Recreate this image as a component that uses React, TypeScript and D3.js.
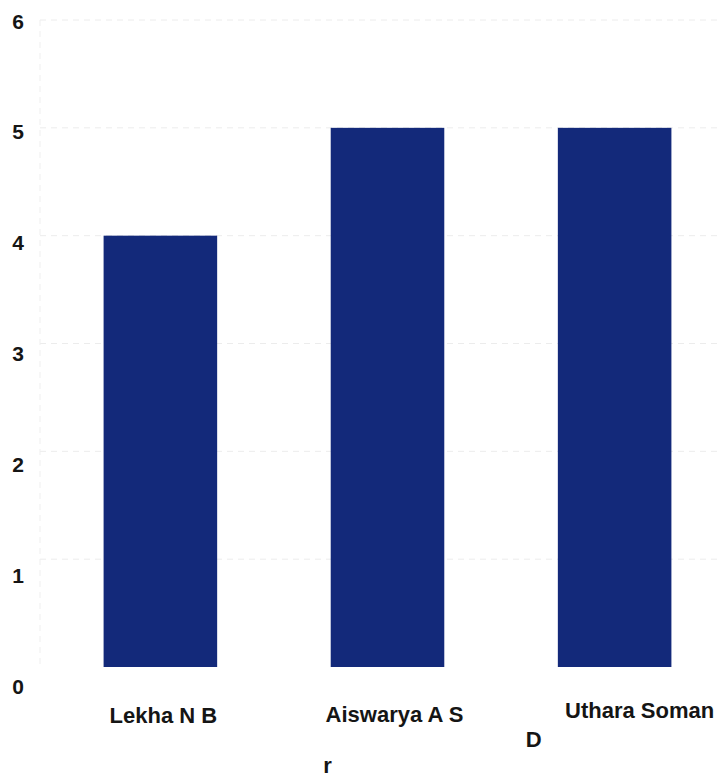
import { useEffect, useRef } from 'react';
import * as d3 from 'd3';

const categories = ['Lekha N B', 'Aiswarya A S', 'Uthara Soman'];
const values = [4, 5, 5];
const yTicks = [0, 1, 2, 3, 4, 5, 6];
// stray fragments printed under the category labels
const extraLabels = [
    { category: 'Aiswarya A S', text: 'r' },
    { category: 'Uthara Soman', text: 'D' },
];

const FONT = '"Liberation Sans", Arial, sans-serif';

export default function App() {
    const svgRef = useRef<SVGSVGElement>(null);

    useEffect(() => {
        if (!svgRef.current) return;
        document.body.style.margin = '0';

        const width = 721;
        const height = 779;

        const svg = d3.select(svgRef.current);
        svg.selectAll('*').remove();
        svg.attr('viewBox', `0 0 ${width} ${height}`);

        svg.append('rect')
            .attr('width', width)
            .attr('height', height)
            .attr('fill', '#fff');

        const x = d3.scaleBand<string>()
            .domain(categories)
            .range([40, 735])
            .paddingInner(0.5)
            .paddingOuter(0.28);

        const y = d3.scaleLinear().domain([0, 6]).range([667, 20]);
        // tick labels sit a little lower than their gridlines in the print
        const yLabel = d3.scaleLinear().domain([0, 6]).range([686, 21]);

        // Gridlines
        svg.selectAll('.grid')
            .data(yTicks.filter(t => t > 0))
            .enter()
            .append('line')
            .attr('class', 'grid')
            .attr('x1', 40)
            .attr('x2', width)
            .attr('y1', d => y(d))
            .attr('y2', d => y(d))
            .attr('stroke', '#ececec')
            .attr('stroke-dasharray', '6,5');

        svg.append('line')
            .attr('x1', 40)
            .attr('x2', 40)
            .attr('y1', y(6))
            .attr('y2', y(0))
            .attr('stroke', '#efefef')
            .attr('stroke-dasharray', '6,5');

        // Bars
        svg.selectAll('.bar')
            .data(categories)
            .enter()
            .append('rect')
            .attr('class', 'bar')
            .attr('x', d => x(d) || 0)
            .attr('y', (d, i) => y(values[i]))
            .attr('width', x.bandwidth())
            .attr('height', (d, i) => y(0) - y(values[i]))
            .attr('fill', '#13297a');

        // Y labels
        svg.selectAll('.ylabel')
            .data(yTicks)
            .enter()
            .append('text')
            .attr('class', 'ylabel')
            .attr('x', 18)
            .attr('y', d => yLabel(d))
            .attr('dy', '0.36em')
            .attr('text-anchor', 'middle')
            .attr('font-family', FONT)
            .attr('font-weight', 'bold')
            .attr('font-size', 21)
            .attr('fill', '#151515')
            .text(d => d);

        // Category labels (slightly shifted, as in the photographed print)
        const labelShift = [3, 7, 25];
        const labelBase = [723, 722, 718];
        svg.selectAll('.xlabel')
            .data(categories)
            .enter()
            .append('text')
            .attr('class', 'xlabel')
            .attr('x', (d, i) => (x(d) || 0) + x.bandwidth() / 2 + labelShift[i])
            .attr('y', (d, i) => labelBase[i])
            .attr('text-anchor', 'middle')
            .attr('font-family', FONT)
            .attr('font-weight', 'bold')
            .attr('font-size', 22)
            .attr('fill', '#151515')
            .text(d => d);

        const extraShift = [-60, -81];
        const extraBase = [773, 747];
        svg.selectAll('.extra')
            .data(extraLabels)
            .enter()
            .append('text')
            .attr('class', 'extra')
            .attr('x', (d, i) => (x(d.category) || 0) + x.bandwidth() / 2 + extraShift[i])
            .attr('y', (d, i) => extraBase[i])
            .attr('text-anchor', 'middle')
            .attr('font-family', FONT)
            .attr('font-weight', 'bold')
            .attr('font-size', 22)
            .attr('fill', '#151515')
            .text(d => d.text);
    }, []);

    return <svg ref={svgRef} width={721} height={779} style={{ display: 'block' }} />;
}
